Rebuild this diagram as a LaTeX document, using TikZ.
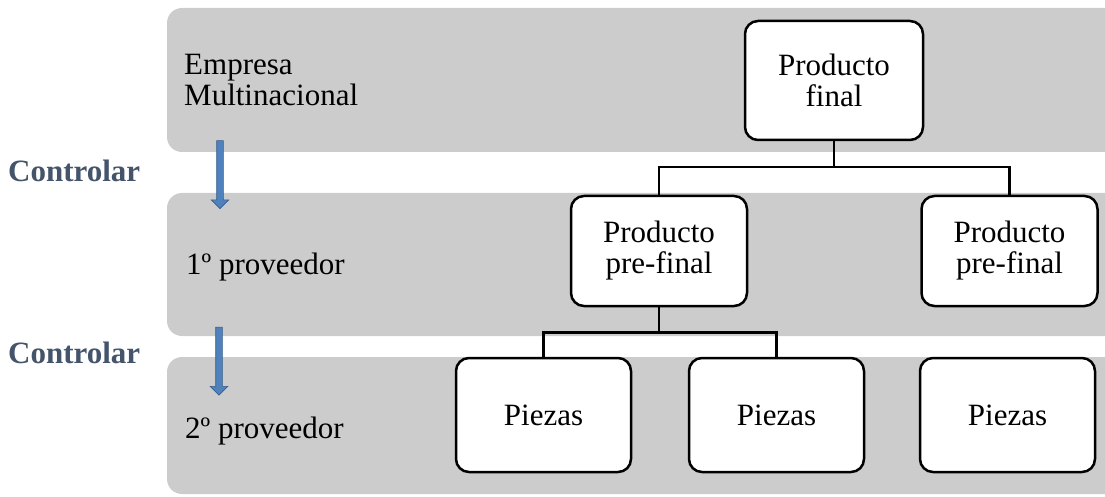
\documentclass[tikz,border=0pt]{standalone}
\usepackage{fontspec}
\setmainfont{Liberation Serif}
\usetikzlibrary{shapes.arrows}

\definecolor{ctrltext}{RGB}{68,84,106}
\definecolor{arrfill}{RGB}{79,129,189}
\definecolor{arrline}{RGB}{56,93,138}

\begin{document}
\begin{tikzpicture}[
  x=1pt, y=-1pt,
  band/.style={fill=gray!40, rounded corners=15pt},
  box/.style={draw, fill=white, line width=2.5pt, rounded corners=13pt,
    align=center, font=\fontsize{31}{31}\selectfont},
  lb/.style={inner sep=0pt, font=\fontsize{31}{31}\selectfont},
  ctrl/.style={inner sep=0pt, anchor=base west, text=ctrltext,
    font=\fontsize{31}{31}\selectfont\bfseries},
  downarr/.style={single arrow, rotate=-90, fill=arrfill, draw=arrline,
    line width=0.6pt, inner sep=3pt, single arrow head extend=5.5pt,
    minimum height=68pt},
  link/.style={line width=2.5pt},
]
\useasboundingbox (0,0) rectangle (1105,497);
\begin{scope}
\clip (0,0) rectangle (1105,497);
% the three levels
\fill[band] (167,8) rectangle (1130,152);
\fill[band] (167,193) rectangle (1130,336);
\fill[band] (167,357) rectangle (1130,494);
\end{scope}

\node[lb, anchor=west, align=left] (empresa) at (184,80) {Empresa\\Multinacional};
\node[lb, anchor=base west] (prov1) at (186,274) {1º proveedor};
\node[lb, anchor=base west] (prov2) at (185,438) {2º proveedor};

\node[ctrl] (ctrl1) at (8,182) {Controlar};
\node[ctrl] (ctrl2) at (8,363) {Controlar};
\node[downarr] (arr1) at (220,173) {};
\node[downarr] (arr2) at (219,359.5) {};

% product tree
\node[box, minimum width=178pt, minimum height=119pt] (final) at (834,80.5) {Producto\\final};
\node[box, minimum width=176pt, minimum height=110pt] (pf1) at (659,251) {Producto\\pre-final};
\node[box, minimum width=176pt, minimum height=110pt] (pf2) at (1009.5,251) {Producto\\pre-final};
\node[box, minimum width=175pt, minimum height=114pt] (pz1) at (543.5,415) {Piezas};
\node[box, minimum width=175pt, minimum height=114pt] (pz2) at (776.5,415) {Piezas};
\node[box, minimum width=175pt, minimum height=114pt] (pz3) at (1007.5,415) {Piezas};

\draw[link] (final.south) -- ++(0,26) -| (pf1.north);
\draw[link] (final.south) -- ++(0,26) -| (pf2.north);
\draw[link] (pf1.south) -- ++(0,25) -| (pz1.north);
\draw[link] (pf1.south) -- ++(0,25) -| (pz2.north);
\end{tikzpicture}
\end{document}
